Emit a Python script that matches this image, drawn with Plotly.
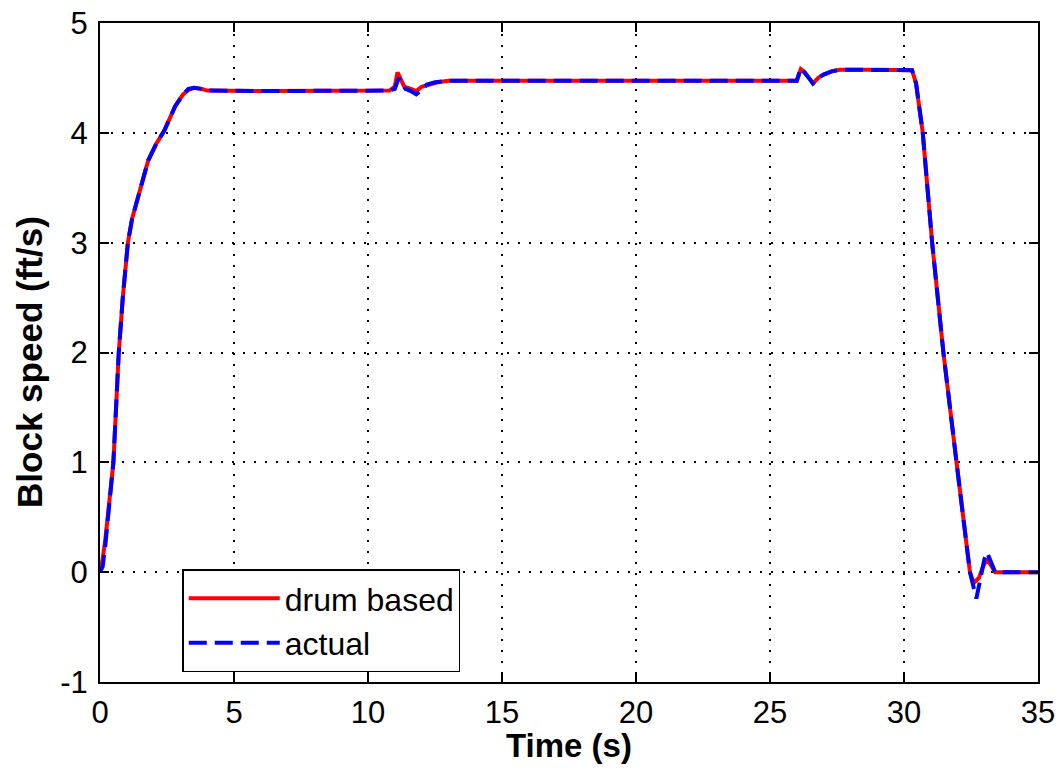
import plotly.graph_objects as go

# ---- data ----
time_drum = [0.0, 0.1, 0.2, 0.3, 0.4, 0.5, 0.6, 0.7, 0.85, 1.04, 1.2, 1.5, 1.8, 2.1, 2.4,
             2.8, 3.1, 3.3, 3.5, 3.8, 4.0, 6.0, 8.0, 10.8, 11.0, 11.1, 11.2, 11.35, 11.6,
             11.8, 12.0, 12.3, 12.6, 13.0, 16.0, 20.0, 24.0, 26.0, 26.15, 26.3, 26.45,
             26.6, 26.8, 27.0, 27.3, 27.6, 29.0, 30.3, 30.45, 30.6, 30.7, 31.05, 31.47,
             31.96, 32.2, 32.46, 32.6, 32.8, 32.95, 33.1, 33.25, 33.4, 34.0, 35.0]
speed_drum = [0.0, 0.12, 0.3, 0.55, 0.75, 1.0, 1.5, 2.0, 2.5, 3.0, 3.22, 3.48, 3.75, 3.9, 4.02,
              4.24, 4.35, 4.39, 4.41, 4.40, 4.385, 4.38, 4.38, 4.385, 4.42, 4.55, 4.50, 4.42, 4.40,
              4.38, 4.42, 4.44, 4.46, 4.475, 4.475, 4.475, 4.475, 4.475, 4.58, 4.55, 4.50,
              4.45, 4.50, 4.53, 4.56, 4.575, 4.575, 4.57, 4.45, 4.2, 4.0, 3.0, 2.0,
              1.0, 0.5, 0.0, -0.1, -0.05, 0.05, 0.12, 0.06, 0.0, 0.0, 0.0]

time_actual = [0.0, 0.1, 0.2, 0.3, 0.4, 0.5, 0.6, 0.7, 0.85, 1.04, 1.2, 1.5, 1.8, 2.1, 2.4,
               2.8, 3.1, 3.3, 3.5, 3.8, 4.0, 6.0, 8.0, 10.8, 11.0, 11.15, 11.25, 11.4, 11.6,
               11.8, 11.95, 12.2, 12.5, 12.8, 13.0, 16.0, 20.0, 24.0, 26.0, 26.15, 26.3, 26.45,
               26.6, 26.8, 27.0, 27.3, 27.6, 29.0, 30.3, 30.45, 30.6, 30.7, 31.05, 31.47,
               31.96, 32.2, 32.46, 32.7, 32.85, 33.0, 33.1, 33.25, 33.4, 34.0, 35.0]
speed_actual = [0.0, 0.05, 0.25, 0.5, 0.72, 1.0, 1.5, 2.0, 2.5, 3.0, 3.22, 3.48, 3.75, 3.9, 4.02,
                4.24, 4.35, 4.40, 4.41, 4.40, 4.385, 4.38, 4.38, 4.385, 4.40, 4.50, 4.45, 4.40, 4.38,
                4.35, 4.38, 4.44, 4.46, 4.47, 4.475, 4.475, 4.475, 4.475, 4.475, 4.59, 4.55, 4.50,
                4.45, 4.50, 4.53, 4.56, 4.575, 4.575, 4.57, 4.45, 4.2, 4.0, 3.0, 2.0,
                1.0, 0.5, 0.0, -0.24, -0.05, 0.12, 0.18, 0.08, 0.0, 0.0, 0.0]

x_ticks = [0, 5, 10, 15, 20, 25, 30, 35]
y_ticks = [-1, 0, 1, 2, 3, 4, 5]
x_title = "Time (s)"
y_title = "Block speed (ft/s)"

FONT = "Liberation Sans, Arial, sans-serif"

fig = go.Figure()
fig.add_trace(go.Scatter(x=time_drum, y=speed_drum, mode="lines", name="drum based",
                         line=dict(color="#ff0000", width=4)))
fig.add_trace(go.Scatter(x=time_actual, y=speed_actual, mode="lines", name="actual",
                         line=dict(color="#0000ff", width=4, dash="18px,8px")))

axis_common = dict(
    showline=True, linecolor="black", linewidth=2, mirror="ticks",
    ticks="inside", ticklen=9, tickwidth=2, tickcolor="black",
    showgrid=True, gridcolor="black", gridwidth=1.5, griddash="2px,9px",
    zeroline=False, automargin=False,
    tickfont=dict(family=FONT, size=31, color="black"),
)

fig.update_xaxes(range=[0, 35], tickvals=x_ticks, ticktext=[str(v) for v in x_ticks],
                 ticklabelstandoff=2, **axis_common)
fig.update_yaxes(range=[-1, 5], tickvals=y_ticks, ticktext=[str(v) for v in y_ticks],
                 ticklabelstandoff=4, **axis_common)

# axis titles placed as annotations (tighter spacing than axis titles allow)
fig.add_annotation(text="<b>" + x_title + "</b>", xref="paper", yref="paper",
                   x=0.5, y=-0.0956, xanchor="center", yanchor="middle", showarrow=False,
                   font=dict(family=FONT, size=33, color="black"))
fig.add_annotation(text="<b>" + y_title + "</b>", xref="paper", yref="paper",
                   x=-0.0747, y=0.4856, xanchor="center", yanchor="middle", showarrow=False,
                   textangle=-90, font=dict(family=FONT, size=35, color="black"))

fig.update_layout(
    width=1063, height=771,
    margin=dict(l=100, r=25, t=23, b=89, autoexpand=False),
    paper_bgcolor="white", plot_bgcolor="white",
    font=dict(family=FONT, color="black"),
    legend=dict(x=0.0877, y=0.0145, xanchor="left", yanchor="bottom",
                bgcolor="white", bordercolor="black", borderwidth=1.5,
                font=dict(family=FONT, size=32, color="black"),
                itemwidth=91, entrywidth=360, entrywidthmode="pixels", tracegroupgap=0),
    showlegend=True,
)

# remove the default 8px page margin so the figure sits at the window's corner
fig.write_html("out.html", config={"displayModeBar": False},
               post_script="document.body.style.margin='0';")
